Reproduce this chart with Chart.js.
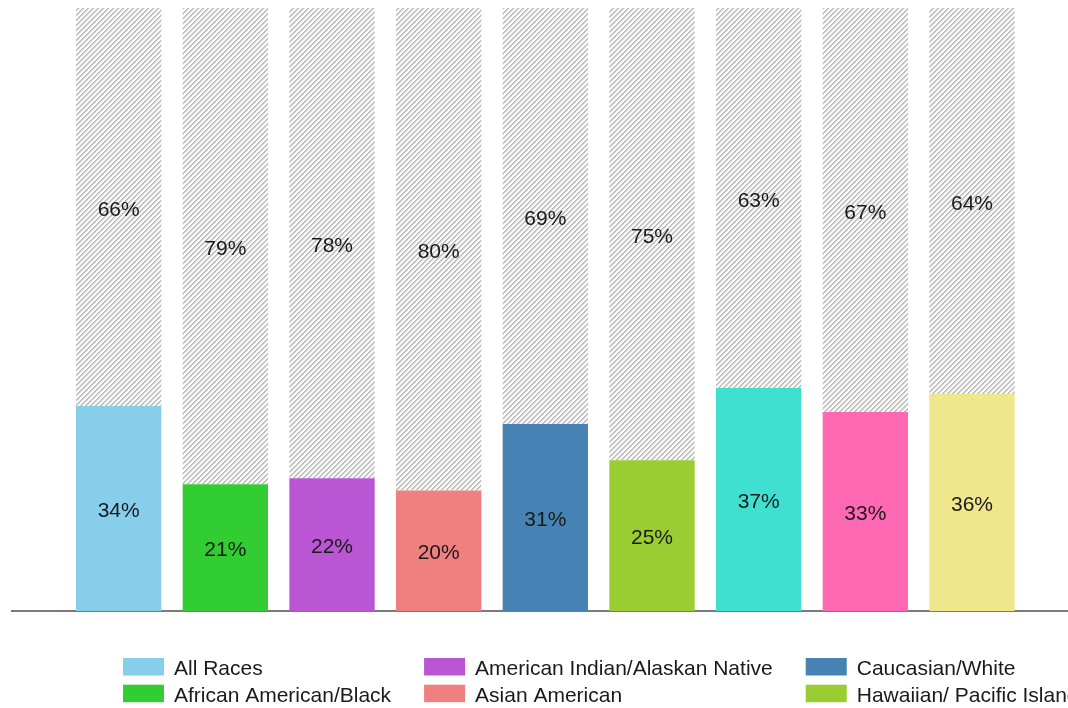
<!DOCTYPE html>
<html>
<head>
<meta charset="utf-8">
<script src="https://cdn.jsdelivr.net/npm/chart.js@4.4.1/dist/chart.umd.min.js"></script>
<style>
  html, body { margin: 0; padding: 0; background: #fff; overflow: hidden; }
  #wrap { width: 1068px; height: 708px; }
</style>
</head>
<body>
<div id="wrap"><canvas id="raceChart"></canvas></div>
<script>
// chart data
const categories = ['All Races', 'African American/Black', 'American Indian/Alaskan Native',
    'Asian American', 'Caucasian/White', 'Hawaiian/ Pacific Islander',
    'Hispanic/Latino', 'Multi-Racial', 'Other'];
const yesValues = [34, 21, 22, 20, 31, 25, 37, 33, 36];
const noValues = [66, 79, 78, 80, 69, 75, 63, 67, 64];
const barColors = ['#87CEEB', '#32CD32', '#BA55D3', '#F08080', '#4682B4',
    '#9ACD32', '#40E0D0', '#FF69B4', '#F0E68C'];

const FONT = '"Liberation Sans", Arial, sans-serif';

// diagonal hatch for the remaining share
function makeHatch() {
    const n = 5;
    const c = document.createElement('canvas');
    c.width = n;
    c.height = n;
    const g = c.getContext('2d');
    const shades = ['#bababa', '#c8c8c8', '#ececec', '#ffffff', '#ffffff'];
    for (let y = 0; y < n; y++) {
        for (let x = 0; x < n; x++) {
            g.fillStyle = shades[(x + y) % n];
            g.fillRect(x, y, 1, 1);
        }
    }
    return g.createPattern(c, 'repeat');
}

// value labels in the middle of every segment
const segmentLabels = {
    id: 'segmentLabels',
    afterDatasetsDraw(chart) {
        const ctx = chart.ctx;
        ctx.save();
        ctx.font = '21px ' + FONT;
        ctx.fillStyle = '#1a1a1a';
        ctx.textAlign = 'center';
        ctx.textBaseline = 'middle';
        chart.data.datasets.forEach((ds, di) => {
            chart.getDatasetMeta(di).data.forEach((el, i) => {
                const p = el.getCenterPoint();
                ctx.fillText(ds.data[i].y + '%', p.x, p.y + 3);
            });
        });
        ctx.restore();
    }
};

// legend laid out in columns of two, like the original
const columnLegend = {
    id: 'columnLegend',
    afterDraw(chart) {
        const ctx = chart.ctx;
        const top = chart.chartArea.bottom + 47;
        ctx.save();
        ctx.font = '21px ' + FONT;
        ctx.textBaseline = 'alphabetic';
        let x = 123;
        for (let c = 0; c < categories.length; c += 2) {
            let w = 0;
            for (let r = 0; r < 2 && c + r < categories.length; r++) {
                const y = top + r * 26.7;
                ctx.fillStyle = barColors[c + r];
                ctx.fillRect(x, y, 41, 17.5);
                ctx.fillStyle = '#1a1a1a';
                ctx.fillText(categories[c + r], x + 51, y + 17.3);
                w = Math.max(w, ctx.measureText(categories[c + r]).width);
            }
            x += 51 + w + 33;
        }
        ctx.restore();
    }
};

document.addEventListener('DOMContentLoaded', function () {
    const ctx = document.getElementById('raceChart').getContext('2d');
    const hatch = makeHatch();

    new Chart(ctx, {
        type: 'bar',
        data: {
            datasets: [
                {
                    label: 'Yes',
                    data: yesValues.map((v, i) => ({ x: i, y: v })),
                    backgroundColor: barColors,
                    borderWidth: 0,
                    barPercentage: 0.8,
                    categoryPercentage: 1
                },
                {
                    label: 'No',
                    data: noValues.map((v, i) => ({ x: i, y: v })),
                    backgroundColor: hatch,
                    borderWidth: 0,
                    barPercentage: 0.8,
                    categoryPercentage: 1
                }
            ]
        },
        options: {
            responsive: true,
            maintainAspectRatio: false,
            animation: false,
            layout: { padding: { left: 12, right: 0, top: 8, bottom: 97 } },
            plugins: {
                legend: { display: false },
                tooltip: { enabled: false }
            },
            scales: {
                x: {
                    type: 'linear',
                    stacked: true,
                    offset: false,
                    min: -1,
                    max: 8.9,
                    grid: { display: false, drawTicks: false },
                    ticks: { display: false, stepSize: 1, includeBounds: false },
                    border: { display: true, color: '#7a7a7a', width: 2 }
                },
                y: {
                    stacked: true,
                    min: 0,
                    max: 100,
                    display: false
                }
            }
        },
        plugins: [segmentLabels, columnLegend]
    });
});
</script>
</body>
</html>
